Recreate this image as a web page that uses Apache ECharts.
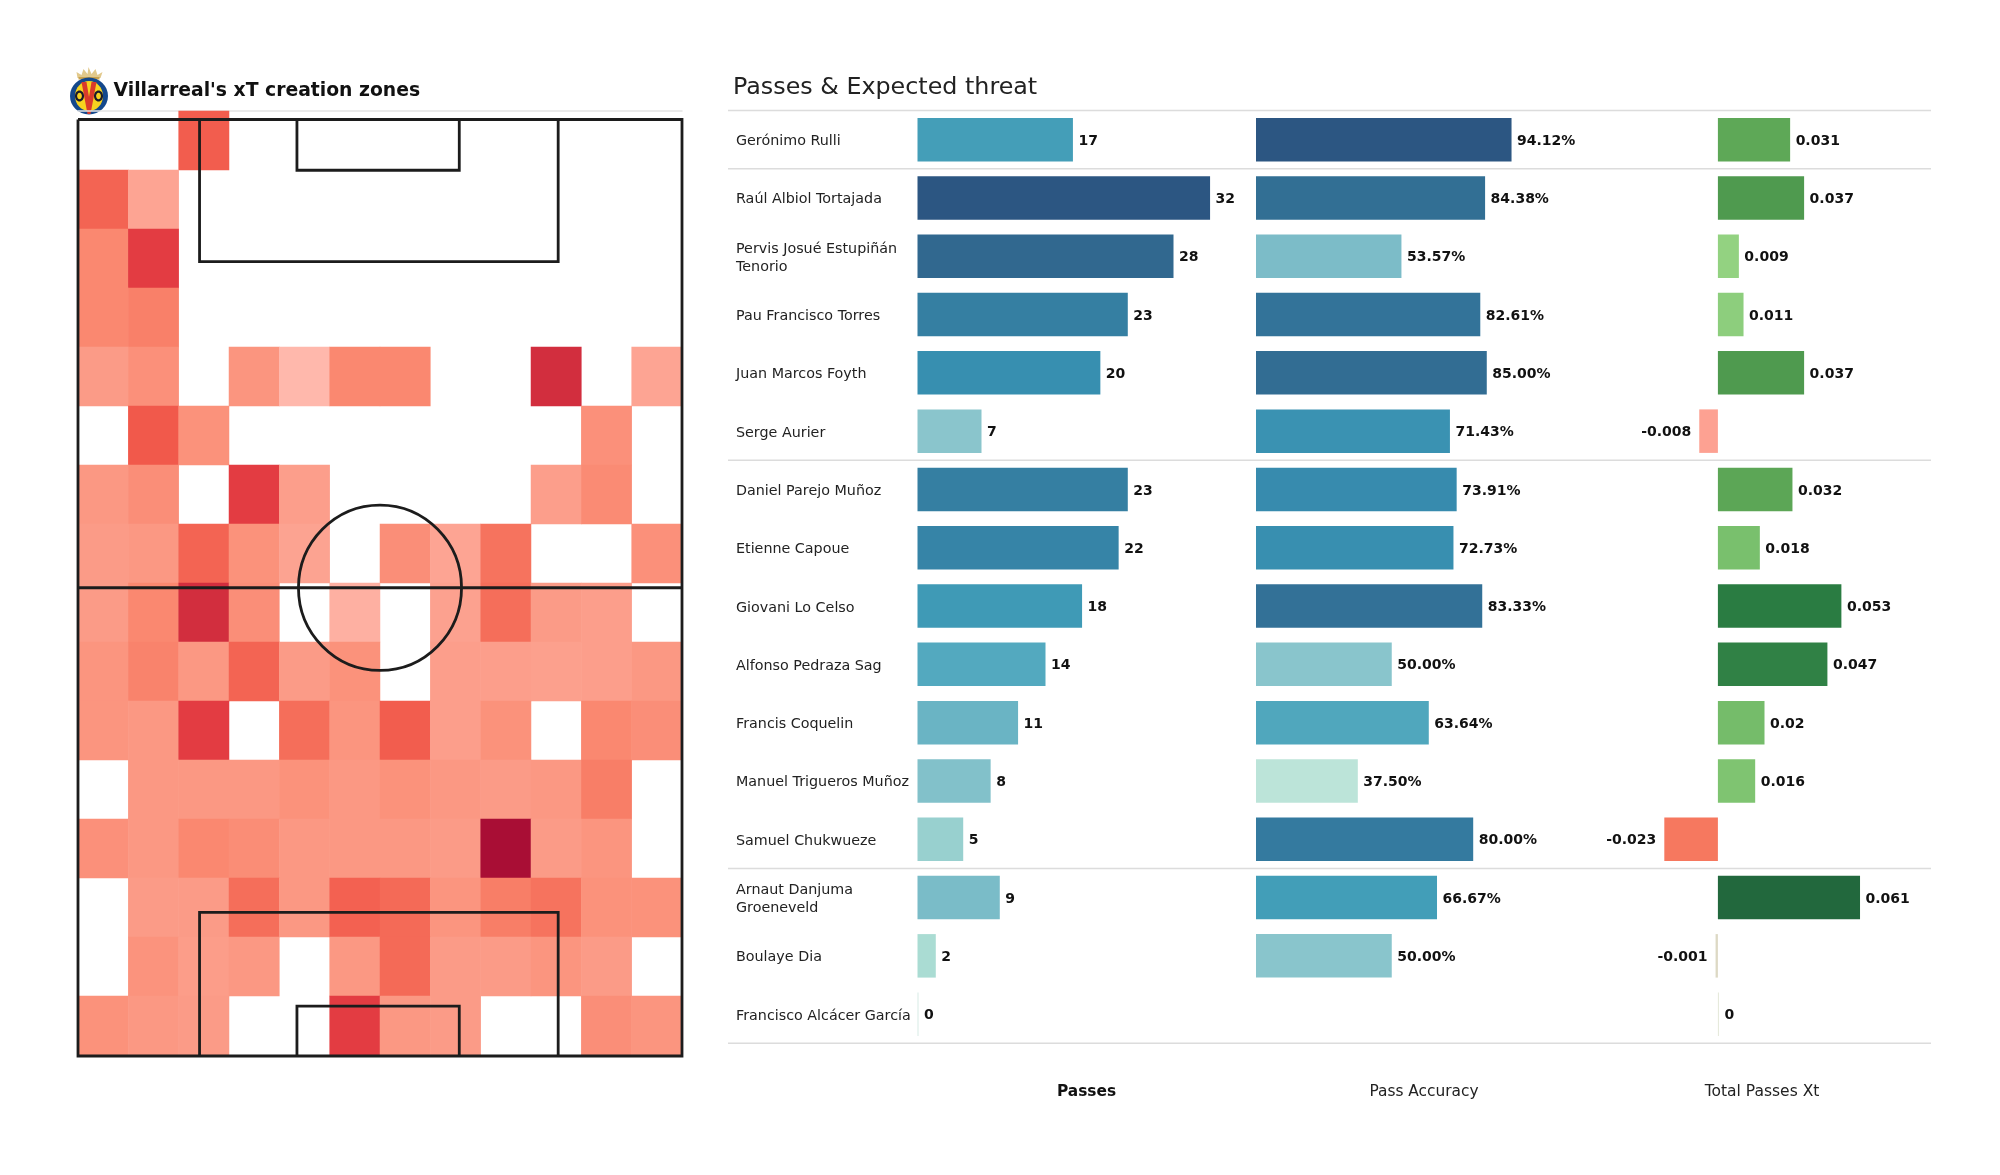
<!DOCTYPE html>
<html><head><meta charset="utf-8">
<style>html,body{margin:0;padding:0;background:#fff}#c{width:2000px;height:1175px}</style>
<script src="https://cdn.jsdelivr.net/npm/echarts@6/dist/echarts.min.js"></script>
</head><body><div id="c"></div>
<script>
const players = ['Gerónimo Rulli','Raúl Albiol Tortajada','Pervis Josué Estupiñán\nTenorio','Pau Francisco Torres','Juan Marcos Foyth','Serge Aurier','Daniel Parejo Muñoz','Etienne Capoue','Giovani Lo Celso','Alfonso Pedraza Sag','Francis Coquelin','Manuel Trigueros Muñoz','Samuel Chukwueze','Arnaut Danjuma\nGroeneveld','Boulaye Dia','Francisco Alcácer García'];
const passes = [17,32,28,23,20,7,23,22,18,14,11,8,5,9,2,0];
const accuracy = [94.12,84.38,53.57,82.61,85.00,71.43,73.91,72.73,83.33,50.00,63.64,37.50,80.00,66.67,50.00,null];
const xT = [0.031,0.037,0.009,0.011,0.037,-0.008,0.032,0.018,0.053,0.047,0.02,0.016,-0.023,0.061,-0.001,0];
const groupBreaks = [0,1,6,13,16];

// Pitch zone intensity, 16 rows x 12 columns, 0 = empty
const zones = [
 [0,0,78,0,0,0,0,0,0,0,0,0],
 [75,42,0,0,0,0,0,0,0,0,0,0],
 [60,90,0,0,0,0,0,0,0,0,0,0],
 [60,63,0,0,0,0,0,0,0,0,0,0],
 [48,55,0,52,30,60,60,0,0,93,0,42],
 [0,80,54,0,0,0,0,0,0,0,55,0],
 [50,56,0,90,46,0,0,0,0,46,58,0],
 [48,50,75,54,43,0,56,42,68,0,0,55],
 [48,60,93,56,0,35,0,44,70,48,46,0],
 [52,62,50,75,48,54,0,46,46,45,46,50],
 [52,50,90,0,70,52,78,46,54,0,60,56],
 [0,50,50,50,54,50,54,50,48,50,64,0],
 [55,50,60,57,50,50,50,48,100,48,52,0],
 [0,48,48,70,50,76,72,52,64,68,54,54],
 [0,53,47,50,0,50,72,48,48,52,48,0],
 [54,50,48,0,0,90,50,48,0,0,56,52]
];

// Pitch markings in pitch units (80 wide x 120 long)
const touchline = [[0,0],[80,0],[80,120],[0,120],[0,0]];
const halfway = [[0,60],[80,60]];
const boxTop = [[16.1,0],[16.1,18.2],[63.6,18.2],[63.6,0]];
const sixTop = [[29,0],[29,6.5],[50.5,6.5],[50.5,0]];
const boxBottom = [[16.1,120],[16.1,101.6],[63.6,101.6],[63.6,120]];
const sixBottom = [[29,120],[29,113.6],[50.5,113.6],[50.5,120]];
const centreCircle = {cx:40, cy:60, rx:10.8, ry:10.6};

const zoneRamp = ['#ffb8ac','#fda797','#fb9883','#fa8870','#f56e5a','#f1594b','#e33c42','#a90e35'];
const passRamp = [[0,'#d7ece6'],[2,'#aadcd3'],[5,'#98d0cf'],[7,'#8ac5cc'],[9,'#7abcc8'],[11,'#6ab4c4'],[14,'#53a9bf'],[18,'#3f9ab6'],[20,'#378fb0'],[23,'#357fa2'],[28,'#31688f'],[32,'#2c5682']];
const accRamp = [[37.5,'#bce4d9'],[50,'#89c5cc'],[53.57,'#7cbcc8'],[63.64,'#50a7bd'],[66.67,'#429eb8'],[73,'#388eb0'],[80,'#347a9f'],[85,'#326d93'],[94.12,'#2c5682']];
const xtRamp = [[-0.023,'#f6785f'],[-0.008,'#fda192'],[-0.001,'#ddd9c4'],[0,'#e4e8d8'],[0.009,'#93d281'],[0.018,'#79c06d'],[0.031,'#5ea857'],[0.037,'#4f9a4f'],[0.047,'#308145'],[0.053,'#2a7c42'],[0.061,'#22683d']];

function rampColor(ramp, v){
  if(v<=ramp[0][0]) return ramp[0][1];
  for(let i=1;i<ramp.length;i++){
    if(v<=ramp[i][0]){
      const t=(v-ramp[i-1][0])/(ramp[i][0]-ramp[i-1][0]);
      const a=echarts.color.parse(ramp[i-1][1]), b=echarts.color.parse(ramp[i][1]);
      return 'rgb('+[0,1,2].map(k=>Math.round(a[k]+(b[k]-a[k])*t)).join(',')+')';
    }
  }
  return ramp[ramp.length-1][1];
}

const FONT='DejaVu Sans', INK='#111';
const rowTop=110.5, rowsH=932.8, barH=43.5;

const zoneCells=[];
zones.forEach((row,r)=>row.forEach((v,c)=>{ if(v>0) zoneCells.push([c,r,v]); }));
const idx=n=>Array.from({length:n},(_,i)=>i);

function yAxis(i,showLabel){
  return {type:'category',gridIndex:i,data:players,inverse:true,
    axisLine:{show:false},axisTick:{show:false},
    axisLabel:{show:showLabel,align:'left',margin:181.5,fontFamily:FONT,fontSize:14.3,color:'#222',lineHeight:18,interval:0}};
}
function xAxis(i,min,max){
  return {type:'value',gridIndex:i,min:min,max:max,show:false};
}
function barSeries(i,data,ramp,fmt){
  return {type:'bar',xAxisIndex:i,yAxisIndex:i,barWidth:barH,barMinHeight:i===1?0:1,silent:true,animation:false,z:3,
    data:data.map(v=>({value:v,
      itemStyle:{color:v==null?'transparent':rampColor(ramp,v)},
      label:{show:v!=null,position:v<0?'left':'right',distance:v<0?8:5.5,offset:[0,1.5],formatter:()=>fmt(v),
        fontFamily:FONT,fontSize:14,fontWeight:'bold',color:INK}}))};
}
function pitchLine(pts,w){
  return {type:'line',coordinateSystem:'cartesian2d',xAxisIndex:5,yAxisIndex:5,data:pts,showSymbol:false,silent:true,animation:false,z:6,
    lineStyle:{color:'#1c1c1c',width:w||2.8,join:'miter'},clip:false};
}

const option={
  backgroundColor:'#fff',
  animation:false,
  title:[
    {text:"Villarreal's xT creation zones",left:108.5,top:76.5,textStyle:{fontFamily:FONT,fontSize:18.8,fontWeight:'bold',color:'#111'}},
    {text:'Passes & Expected threat',left:728,top:71,textStyle:{fontFamily:FONT,fontSize:23.8,fontWeight:'normal',color:'#222'}},
    {text:'Passes',left:1081.5,top:1079,textAlign:'center',textStyle:{fontFamily:FONT,fontSize:15.4,fontWeight:'bold',color:INK}},
    {text:'Pass Accuracy',left:1419,top:1079,textAlign:'center',textStyle:{fontFamily:FONT,fontSize:15.4,fontWeight:'normal',color:'#222'}},
    {text:'Total Passes Xt',left:1757,top:1079,textAlign:'center',textStyle:{fontFamily:FONT,fontSize:15.5,fontWeight:'normal',color:'#222'}}
  ],
  grid:[
    {left:917.5,top:rowTop,width:320,height:rowsH},
    {left:1256,top:rowTop,width:325.8,height:rowsH},
    {left:1648,top:rowTop,width:233,height:rowsH},
    {left:728,top:rowTop,width:1203,height:rowsH},
    {left:78,top:111,width:604,height:944},
    {left:78,top:119.5,width:604,height:936.5},
    {left:917.5,top:rowTop+1.8,width:320,height:rowsH}
  ],
  xAxis:[
    xAxis(0,0,35),xAxis(1,0,120),xAxis(2,-0.03,0.07),xAxis(3,0,1),
    {type:'category',gridIndex:4,data:idx(12),position:'top',axisLine:{show:true,lineStyle:{color:'#e4e4e4',width:1.5}},axisTick:{show:false},axisLabel:{show:false}},
    xAxis(5,0,80),
    xAxis(6,0,35)
  ],
  yAxis:[
    yAxis(0,false),yAxis(1,false),yAxis(2,false),
    {type:'value',gridIndex:3,min:0,max:16,inverse:true,show:false},
    {type:'category',gridIndex:4,data:idx(16),inverse:true,show:false},
    {type:'value',gridIndex:5,min:0,max:120,inverse:true,show:false},
    yAxis(6,true)
  ],
  visualMap:{show:false,type:'continuous',seriesIndex:0,dimension:2,min:30,max:100,inRange:{color:zoneRamp}},
  series:[
    {type:'heatmap',xAxisIndex:4,yAxisIndex:4,data:zoneCells,silent:true,animation:false,z:2,itemStyle:{borderWidth:0}},
    barSeries(0,passes,passRamp,v=>String(v)),
    barSeries(1,accuracy,accRamp,v=>v==null?'':v.toFixed(2)+'%'),
    barSeries(2,xT,xtRamp,v=>String(v)),
    ...groupBreaks.map(b=>({type:'line',xAxisIndex:3,yAxisIndex:3,data:[[0,b],[1,b]],showSymbol:false,silent:true,animation:false,z:1,clip:false,
      lineStyle:{color:'#dcdcdc',width:1.5}})),
    pitchLine(touchline),pitchLine(halfway),pitchLine(boxTop),pitchLine(sixTop),pitchLine(boxBottom),pitchLine(sixBottom),
    {type:'custom',xAxisIndex:5,yAxisIndex:5,coordinateSystem:'cartesian2d',data:[[centreCircle.cx,centreCircle.cy]],silent:true,animation:false,z:6,clip:false,
      renderItem:(p,api)=>{
        const c=api.coord([api.value(0),api.value(1)]);
        const s=api.size([centreCircle.rx,centreCircle.ry]);
        return {type:'ellipse',shape:{cx:c[0],cy:c[1],rx:s[0],ry:s[1]},style:{fill:null,stroke:'#1c1c1c',lineWidth:2.8}};
      }}
  ],
  graphic:[{
    type:'group',left:70,top:67,silent:true,
    children:[
      // crown
      {type:'polygon',shape:{points:[[8,11],[7,5],[12,8],[14,2],[18,7],[19,0],[22,7],[26,2],[28,8],[33,5],[31,11]]},style:{fill:'#e2c98c'}},
      {type:'rect',shape:{x:9,y:10,width:21,height:2.5},style:{fill:'#c9a24e'}},
      // shield
      {type:'ellipse',shape:{cx:19.5,cy:29,rx:19,ry:18.5},style:{fill:'#14488c'}},
      {type:'ellipse',shape:{cx:19.5,cy:29,rx:14,ry:15},style:{fill:'#f6d21f'}},
      {type:'polygon',shape:{points:[[12,15],[17,15],[19.5,30],[22,15],[27,15],[21,47],[18,47]]},style:{fill:'#d93a2b'}},
      {type:'ellipse',shape:{cx:10,cy:29,rx:4.5,ry:5.5},style:{fill:'#1a1a2a'}},
      {type:'ellipse',shape:{cx:29,cy:29,rx:4.5,ry:5.5},style:{fill:'#1a1a2a'}},
      {type:'ellipse',shape:{cx:10,cy:29,rx:2.4,ry:3.2},style:{fill:'#f6d21f'}},
      {type:'ellipse',shape:{cx:29,cy:29,rx:2.4,ry:3.2},style:{fill:'#f6d21f'}}
    ]
  }]
};
echarts.init(document.getElementById('c'),null,{renderer:'canvas'}).setOption(option);
</script></body></html>
